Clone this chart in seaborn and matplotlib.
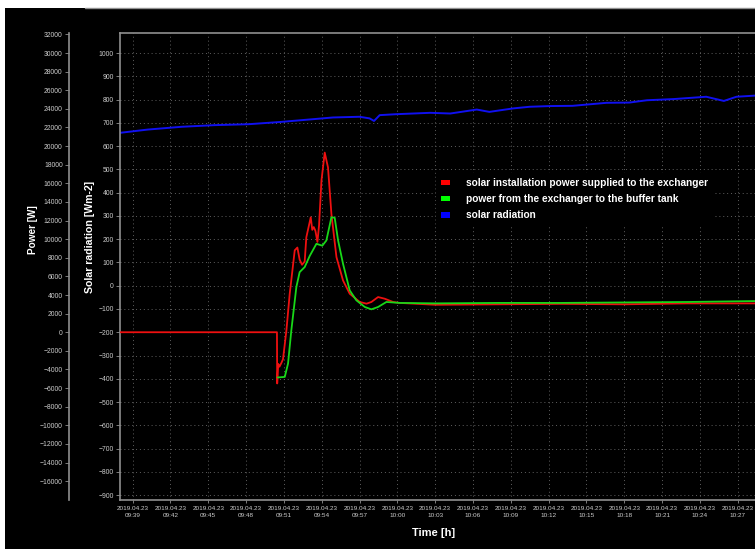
import matplotlib
matplotlib.use('Agg')
import matplotlib.pyplot as plt
from matplotlib.patches import Patch, Rectangle
from matplotlib.lines import Line2D
import seaborn as sns

# time axis: minutes after 09:38 on 2019.04.23
tick_minutes = [1, 4, 7, 10, 13, 16, 19, 22, 25, 28, 31, 34, 37, 40, 43, 46, 49]
tick_times = ['09:39', '09:42', '09:45', '09:48', '09:51', '09:54', '09:57', '10:00', '10:03',
              '10:06', '10:09', '10:12', '10:15', '10:18', '10:21', '10:24', '10:27']
date_label = '2019.04.23'

# solar radiation [Wm-2]
rad_t = [0, 2.2, 4.9, 7.5, 10.2, 12.8, 15.4, 16.9, 19.0, 19.8, 20.15, 20.6, 21.9, 24.6, 26.2,
         28.3, 29.3, 31.2, 32.5, 34.1, 35.9, 38.6, 40.4, 41.8, 43.9, 46.5, 47.9, 48.9, 50.4]
rad_v = [657, 671, 683, 690, 694, 704, 716, 723, 726, 719, 708, 733, 737, 743, 740,
         757, 747, 762, 769, 772, 773, 786, 787, 797, 802, 812, 794, 812, 817]

# solar installation power supplied to the exchanger [W]
red_t = [0, 12.45, 12.47, 12.55, 12.65, 12.8, 12.93, 13.2, 13.46, 13.86, 14.07, 14.25, 14.44,
         14.65, 14.78, 15.13, 15.25, 15.37, 15.5, 15.66, 15.79, 15.98, 16.24, 16.5, 16.77,
         17.17, 17.69, 18.22, 19.02, 19.55, 19.94, 20.47, 21.0, 21.66, 22.19, 25, 30, 35,
         40, 45, 50.4]
red_v = [0, 0, -5500, -3400, -3700, -3300, -2900, 200, 4100, 8800, 9100, 7800, 7250,
         7600, 10200, 12350, 11000, 11300, 10900, 9700, 11500, 16300, 19300, 17700, 12700,
         8070, 5570, 4140, 3250, 3070, 3250, 3780, 3600, 3250, 3150, 2950, 3000, 3050,
         3000, 3100, 3100]

# power from the exchanger to the buffer tank [W]
green_t = [12.5, 13.07, 13.33, 13.59, 13.99, 14.25, 14.65, 15.05, 15.58, 16.05, 16.37, 16.77,
           17.03, 17.3, 17.69, 18.22, 18.75, 19.42, 19.94, 20.47, 21.13, 22.19, 25, 30, 35,
           40, 45, 50.4]
green_v = [-4860, -4800, -3360, 200, 4860, 6460, 7000, 8200, 9500, 9300, 9860, 12350,
           12300, 9860, 7360, 4500, 3430, 2710, 2460, 2710, 3250, 3150, 3100, 3150, 3150,
           3200, 3250, 3350]

labels = ['solar installation power supplied to the exchanger',
          'power from the exchanger to the buffer tank',
          'solar radiation']

sns.set_style('dark')
plt.rcParams['font.family'] = ['Liberation Sans', 'DejaVu Sans']

W, H = 755, 549
fig = plt.figure(figsize=(W / 100, H / 100), dpi=100, facecolor='black')
ax = fig.add_axes([120 / W, 1 - 500 / H, (W - 120) / W, (500 - 33) / H])
ax.set_facecolor('black')
ax2 = ax.twinx()
ax2.patch.set_visible(False)

sns.lineplot(x=rad_t, y=rad_v, ax=ax, color='#1010f0', lw=1.4, estimator=None)
sns.lineplot(x=red_t, y=red_v, ax=ax2, color='#ee1010', lw=1.3, estimator=None)
sns.lineplot(x=green_t, y=green_v, ax=ax2, color='#18d818', lw=1.3, estimator=None)

ax.set_xlim(0, 50.37)
ax.set_ylim(-921, 1086)
ax2.set_ylim(-18025, 32150)

tcol = '#cccccc'
ax.set_xticks(tick_minutes)
ax.set_xticklabels([date_label + '\n' + t for t in tick_times], fontsize=4.6,
                   color=tcol, linespacing=1.5)
ax.set_yticks(range(-900, 1001, 100))
ax.tick_params(axis='y', labelsize=4.9, labelcolor=tcol, color='#909090', length=3, width=0.6, pad=1.5, left=True)
ax.tick_params(axis='x', color='#909090', length=2, width=0.6, pad=2, bottom=True)
ax.grid(True, color='#606060', linestyle=(0, (1, 3)), lw=0.7)

ax2.set_yticks(range(-16000, 32001, 2000))
ax2.yaxis.set_ticks_position('left')
ax2.spines['left'].set_position(('axes', -51 / 635))
ax2.tick_params(axis='y', labelsize=4.9, labelcolor=tcol, color='#909090', length=3, width=0.6, pad=1.5)
ax2.grid(False)

for a in (ax, ax2):
    for s in a.spines.values():
        s.set_visible(False)
    a.set_xlabel('')
    a.set_ylabel('')
for s in ('left', 'top', 'bottom'):
    ax.spines[s].set_visible(True)
    ax.spines[s].set_color('#909090')
    ax.spines[s].set_linewidth(1.2)
ax2.spines['left'].set_visible(True)
ax2.spines['left'].set_color('#909090')
ax2.spines['left'].set_linewidth(1.2)

fig.text(33 / W, 1 - 230 / H, 'Power [W]', rotation=90, ha='center', va='center',
         color='white', fontsize=7.2, fontweight='bold')
fig.text(90 / W, 1 - 237 / H, 'Solar radiation [Wm-2]', rotation=90, ha='center', va='center',
         color='white', fontsize=7.6, fontweight='bold')
fig.text(434 / W, 1 - 533 / H, 'Time [h]', ha='center', va='center',
         color='white', fontsize=8, fontweight='bold')

handles = [Patch(facecolor='#ff0000', edgecolor='none'),
           Patch(facecolor='#00ff00', edgecolor='none'),
           Patch(facecolor='#0000ff', edgecolor='none')]
leg = ax2.legend(handles, labels, loc='upper left', bbox_to_anchor=(436 / W, 1 - 173 / H),
                 bbox_transform=fig.transFigure, fontsize=7.3, handlelength=0.9, handleheight=0.5,
                 handletextpad=1.6, labelspacing=0.6, borderaxespad=0, borderpad=0.5,
                 frameon=True, facecolor='black', edgecolor='black', framealpha=1, fancybox=False)
for txt in leg.get_texts():
    txt.set_color('white')
    txt.set_fontweight('bold')

# screenshot border
fig.add_artist(Rectangle((0, 1 - 7.5 / H), 1, 7.5 / H, transform=fig.transFigure,
                         facecolor='white', edgecolor='none'))
fig.add_artist(Rectangle((0, 0), 5 / W, 1, transform=fig.transFigure,
                         facecolor='white', edgecolor='none'))
fig.add_artist(Line2D([85 / W, 1], [1 - 8 / H, 1 - 8 / H], transform=fig.transFigure,
                      color='#909090', lw=1))

fig.savefig('out.png', dpi=100, facecolor='black')
